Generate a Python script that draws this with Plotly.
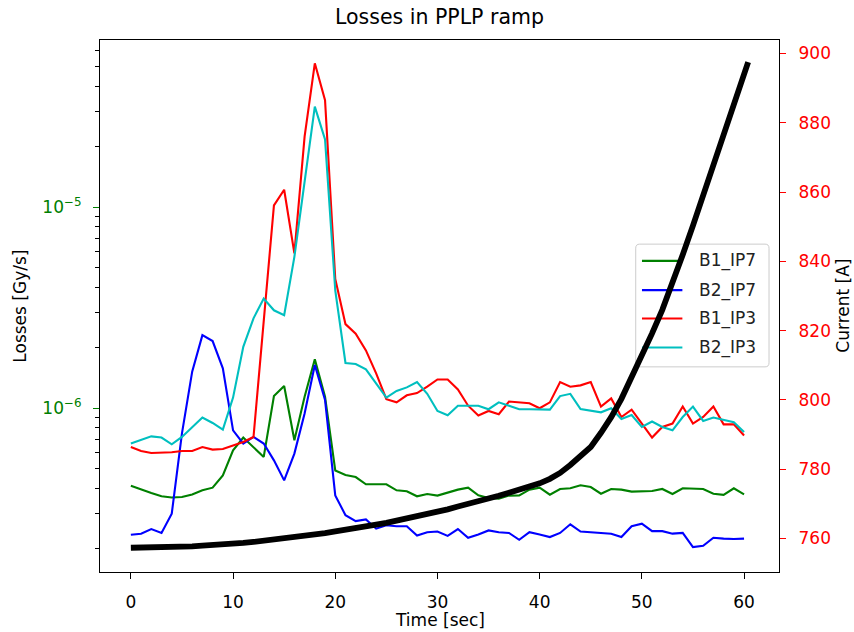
import plotly.graph_objects as go

time = list(range(61))

b1_ip7 = [4.12e-7, 3.94e-7, 3.79e-7, 3.65e-7, 3.60e-7, 3.62e-7, 3.73e-7, 3.91e-7, 4.03e-7, 4.64e-7,
          6.18e-7, 7.15e-7, 6.42e-7, 5.73e-7, 1.15e-6, 1.29e-6, 6.93e-7, 1.14e-6, 1.75e-6, 1.14e-6,
          4.91e-7, 4.66e-7, 4.55e-7, 4.19e-7, 4.19e-7, 4.19e-7, 3.91e-7, 3.87e-7, 3.65e-7, 3.75e-7,
          3.68e-7, 3.81e-7, 3.94e-7, 4.03e-7, 3.69e-7, 3.58e-7, 3.55e-7, 3.68e-7, 3.69e-7, 3.94e-7,
          4.03e-7, 3.72e-7, 3.97e-7, 4.00e-7, 4.14e-7, 4.06e-7, 3.76e-7, 3.97e-7, 3.94e-7, 3.85e-7,
          3.85e-7, 3.88e-7, 3.97e-7, 3.75e-7, 4.00e-7, 3.98e-7, 3.97e-7, 3.76e-7, 3.71e-7, 4.00e-7,
          3.73e-7]

b2_ip7 = [2.35e-7, 2.38e-7, 2.51e-7, 2.40e-7, 2.99e-7, 7.51e-7, 1.52e-6, 2.31e-6, 2.16e-6, 1.58e-6,
          7.77e-7, 6.68e-7, 7.20e-7, 6.68e-7, 5.51e-7, 4.38e-7, 5.95e-7, 9.41e-7, 1.64e-6, 1.10e-6,
          3.69e-7, 2.94e-7, 2.75e-7, 2.80e-7, 2.52e-7, 2.62e-7, 2.59e-7, 2.59e-7, 2.33e-7, 2.42e-7,
          2.44e-7, 2.32e-7, 2.51e-7, 2.27e-7, 2.36e-7, 2.47e-7, 2.42e-7, 2.40e-7, 2.22e-7, 2.42e-7,
          2.36e-7, 2.29e-7, 2.40e-7, 2.65e-7, 2.44e-7, 2.42e-7, 2.40e-7, 2.38e-7, 2.29e-7, 2.59e-7,
          2.67e-7, 2.45e-7, 2.45e-7, 2.38e-7, 2.40e-7, 2.04e-7, 2.07e-7, 2.27e-7, 2.25e-7, 2.24e-7,
          2.25e-7]

b1_ip3 = [6.42e-7, 6.13e-7, 5.99e-7, 5.99e-7, 6.04e-7, 6.13e-7, 6.13e-7, 6.42e-7, 6.23e-7, 6.27e-7,
          6.52e-7, 6.80e-7, 7.20e-7, 2.71e-6, 1.02e-5, 1.22e-5, 5.89e-6, 2.24e-5, 5.19e-5, 3.40e-5,
          4.40e-6, 2.62e-6, 2.35e-6, 1.94e-6, 1.49e-6, 1.11e-6, 1.07e-6, 1.16e-6, 1.19e-6, 1.28e-6,
          1.39e-6, 1.39e-6, 1.24e-6, 1.03e-6, 9.20e-7, 9.70e-7, 9.34e-7, 1.08e-6, 1.07e-6, 1.06e-6,
          1.00e-6, 1.07e-6, 1.35e-6, 1.28e-6, 1.30e-6, 1.35e-6, 1.02e-6, 1.12e-6, 9.05e-7, 9.85e-7,
          8.39e-7, 7.15e-7, 8.07e-7, 8.39e-7, 1.02e-6, 8.39e-7, 9.05e-7, 1.02e-6, 8.32e-7, 8.32e-7,
          7.32e-7]

b2_ip3 = [6.68e-7, 6.93e-7, 7.25e-7, 7.15e-7, 6.62e-7, 7.20e-7, 8.07e-7, 8.99e-7, 8.45e-7, 7.84e-7,
          1.13e-6, 2.02e-6, 2.80e-6, 3.51e-6, 3.07e-6, 2.90e-6, 5.66e-6, 1.36e-5, 3.16e-5, 2.17e-5,
          3.86e-6, 1.68e-6, 1.66e-6, 1.56e-6, 1.33e-6, 1.13e-6, 1.22e-6, 1.27e-6, 1.35e-6, 1.18e-6,
          9.70e-7, 9.23e-7, 1.03e-6, 1.03e-6, 1.03e-6, 9.89e-7, 1.07e-6, 1.03e-6, 9.89e-7, 9.89e-7,
          9.85e-7, 9.85e-7, 1.15e-6, 1.18e-6, 9.92e-7, 9.77e-7, 9.55e-7, 1.00e-6, 8.85e-7, 9.26e-7,
          8.07e-7, 8.59e-7, 8.07e-7, 7.77e-7, 9.05e-7, 1.02e-6, 8.65e-7, 8.99e-7, 8.72e-7, 8.52e-7,
          7.62e-7]

current_time = list(range(61)) + [60.4]
current = [757.3, 757.3, 757.3, 757.4, 757.5, 757.6, 757.7, 757.9, 758.0, 758.2,
           758.5, 758.7, 759.0, 759.3, 759.6, 759.9, 760.3, 760.7, 761.1, 761.5,
           762.0, 762.4, 762.9, 763.4, 764.0, 764.5, 765.1, 765.8, 766.4, 767.1,
           767.7, 768.4, 769.2, 769.9, 770.7, 771.5, 772.3, 773.2, 774.0, 774.9,
           775.9, 777.2, 778.9, 781.2, 783.6, 786.4, 790.5, 795.0, 800.3, 806.3,
           812.6, 819.2, 826.0, 833.4, 841.9, 850.3, 859.0, 867.8, 876.7, 885.6,
           894.5, 897.5]

series = [("B1_IP7", b1_ip7, "#008000"), ("B2_IP7", b2_ip7, "#0000ff"),
          ("B1_IP3", b1_ip3, "#ff0000"), ("B2_IP3", b2_ip3, "#00bfbf")]

x_ticks = [0, 10, 20, 30, 40, 50, 60]
cur_ticks = [760, 780, 800, 820, 840, 860, 880, 900]
log_major = [1e-6, 1e-5]
log_major_text = ["10<sup>\u22126</sup>", "10<sup>\u22125</sup>"]
log_minor = [m * 10.0 ** e for e in (-7, -6, -5) for m in range(2, 10)]

FONT = "DejaVu Sans"
fig = go.Figure()
for name, vals, col in series:
    fig.add_trace(go.Scatter(x=time, y=vals, mode="lines", name=name,
                             line=dict(color=col, width=2.1), showlegend=False))
fig.add_trace(go.Scatter(x=current_time, y=current, mode="lines", name="Current",
                         line=dict(color="black", width=5.8), yaxis="y2", showlegend=False))

# legend drawn beneath the current curve (as in the reference)
L, R, T, B = 0.789, 0.9853, 0.6163, 0.3856
rx, ry_ = 4 / 679, 4 / 531.7
path = (f"M {L+rx},{B} L {R-rx},{B} Q {R},{B} {R},{B+ry_} L {R},{T-ry_} Q {R},{T} {R-rx},{T} "
        f"L {L+rx},{T} Q {L},{T} {L},{T-ry_} L {L},{B+ry_} Q {L},{B} {L+rx},{B} Z")
shapes = [dict(type="path", xref="paper", yref="paper", path=path,
               fillcolor="rgba(255,255,255,0.8)", line=dict(color="#cccccc", width=1),
               layer="below")]
annotations = []
rows = [0.5849, 0.5298, 0.4766, 0.4220]
for (name, vals, col), ry in zip(series, rows):
    shapes.append(dict(type="line", xref="paper", yref="paper", x0=0.7982, x1=0.8577,
                       y0=ry, y1=ry, line=dict(color=col, width=2.1), layer="below"))
    annotations.append(dict(text=name, xref="paper", yref="paper", x=0.8792, y=ry,
                            xanchor="left", yanchor="middle", showarrow=False,
                            font=dict(family=FONT, size=17, color="#222222")))

annotations += [
    dict(text="Losses [Gy/s]", xref="paper", yref="paper", x=-0.1183, y=0.5,
         textangle=-90, showarrow=False, xanchor="center", yanchor="middle",
         font=dict(family=FONT, size=17, color="black")),
    dict(text="Current [A]", xref="paper", yref="paper", x=1.0938, y=0.5,
         textangle=-90, showarrow=False, xanchor="center", yanchor="middle",
         font=dict(family=FONT, size=17, color="black")),
    dict(text="Time [sec]", xref="paper", yref="paper", x=0.5, y=-0.0908,
         showarrow=False, xanchor="center", yanchor="middle",
         font=dict(family=FONT, size=17, color="black")),
]

fig.update_layout(
    width=854, height=632,
    margin=dict(l=100, r=75, t=40, b=60),
    paper_bgcolor="white", plot_bgcolor="white",
    font=dict(family=FONT, size=17, color="black"),
    title=dict(text="Losses in PPLP ramp", x=0.5, xref="paper", xanchor="center",
               y=1 - 17 / 632, yref="container", yanchor="middle",
               font=dict(family=FONT, size=20.5, color="black")),
    xaxis=dict(range=[-3.02, 63.42], tickmode="array", tickvals=x_ticks,
               ticks="outside", ticklen=6, tickwidth=1.1, tickcolor="black",
               ticklabelstandoff=8,
               showline=True, linecolor="black", linewidth=1.2, mirror=True,
               showgrid=False, zeroline=False,
               tickfont=dict(family=FONT, size=17, color="black")),
    yaxis=dict(type="log", range=[-6.814, -4.169], tickmode="array",
               tickvals=log_major, ticktext=log_major_text,
               ticks="outside", ticklen=6, tickwidth=1.1, tickcolor="#008000",
               ticklabelstandoff=8,
               minor=dict(tickmode="array", tickvals=log_minor, ticks="outside",
                          ticklen=3.5, tickwidth=1, tickcolor="black", showgrid=False),
               showline=True, linecolor="black", linewidth=1.2, mirror=False,
               showgrid=False, zeroline=False,
               tickfont=dict(family=FONT, size=17, color="#008000")),
    yaxis2=dict(overlaying="y", side="right", range=[750.3, 903.9],
                tickmode="array", tickvals=cur_ticks,
                ticks="outside", ticklen=6, tickwidth=1.1, tickcolor="#ff0000",
                ticklabelstandoff=9,
                showline=True, linecolor="black", linewidth=1.2,
                showgrid=False, zeroline=False,
                tickfont=dict(family=FONT, size=17, color="#ff0000")),
    shapes=shapes, annotations=annotations,
)

fig.write_html("out.html")
